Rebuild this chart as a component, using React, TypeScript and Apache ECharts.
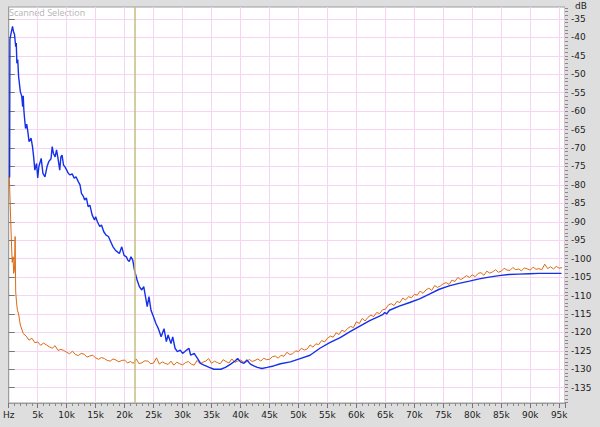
import React, { useEffect, useRef } from 'react';
import * as echarts from 'echarts';

// Blue trace (kHz, dB)
const blueKHz = [
  0.15, 0.2, 0.45, 0.65, 0.8, 1.0, 1.2, 1.3, 1.4, 1.55, 1.7, 2.0, 2.25, 2.4, 2.5, 2.6, 2.7, 2.9, 3.1, 3.3,
  3.5, 3.85, 4.1, 4.3, 4.5, 4.8, 5.0, 5.2, 5.6, 5.9, 6.25, 6.6, 6.9, 7.3, 7.5, 7.7, 8.0, 8.25, 8.5, 8.8,
  9.0, 9.2, 9.45, 9.7, 10.0, 10.3, 10.6, 10.95, 11.3, 11.6, 12.0, 12.3, 12.55, 12.9, 13.1, 13.4, 13.7, 14.0, 14.4, 14.8,
  15.0, 15.3, 15.7, 16.0, 16.4, 16.8, 17.2, 17.6, 18.0, 18.4, 18.7, 19.1, 19.5, 19.9, 20.3, 20.55, 20.8, 21.1, 21.4, 21.7,
  22.15, 22.55, 22.95, 23.3, 23.5, 23.9, 24.2, 24.55, 25.0, 25.4, 25.8, 26.3, 26.8, 27.2, 27.5, 28.0, 28.3, 28.7, 29.1, 29.6,
  30.0, 30.4, 30.7, 31.1, 31.4, 32.0, 32.6, 33.1, 33.7, 34.6, 35.4, 36.6, 37.4, 38.3, 39.1, 39.5, 40.0, 40.6, 41.1, 41.7,
  42.3, 42.9, 43.7, 44.6, 45.7, 46.9, 48.6, 50.3, 52.0, 53.7, 55.4, 57.2, 58.9, 60.6, 62.3, 64.0, 64.6, 64.9, 65.2, 65.7,
  67.4, 69.2, 70.9, 72.6, 74.3, 76.0, 77.7, 79.5, 81.2, 82.9, 84.6, 86.3, 88.0, 89.8, 91.5, 93.2, 95.4
];
const blueDb = [
  -78, -40.5, -38.5, -37, -38.3, -39.2, -42.5, -41.5, -47, -46, -50.6, -54.7, -56, -58.8, -55.8, -59.5, -61.5, -64.7, -63.5, -65.6,
  -68.3, -67.3, -69.6, -72.4, -76, -74.2, -78.1, -75, -72.8, -76.9, -77.8, -75.1, -73.7, -72.9, -69.6, -71.4, -72.4, -70.5, -72.8, -76,
  -72.4, -71.9, -74.6, -75.1, -76, -76.9, -77.3, -77, -78.2, -77.8, -79.1, -80, -82.3, -83.2, -84.1, -83.5, -85.9, -85.5, -88.2, -89.5,
  -88.6, -90, -91.3, -90.9, -92.7, -93.6, -94, -95.4, -96.8, -97.7, -98.1, -98.6, -96.8, -99.1, -99.5, -100.4, -100.8, -99.5, -100.4, -103.1,
  -105.8, -107.6, -108.5, -107.6, -109.4, -113, -110.3, -114, -115.8, -117.6, -118.9, -121.2, -119.0, -122.5, -120.7, -123, -121.2, -124.3, -125.2, -124.8,
  -125.7, -125.2, -124.8, -124.3, -126.2, -125.7, -127.1, -128.4, -128.9, -129.5, -130, -130, -129.5, -128.6, -127.7, -127.1, -128, -128.4, -127.5, -128.6,
  -129.1, -129.5, -129.8, -129.5, -129.1, -128.5, -128, -127.1, -126.2, -124.3, -122.8, -121.4, -119.8, -118.3, -116.8, -115.6, -115.1, -114.6, -115.0, -114,
  -112.9, -111.9, -110.9, -109.6, -108.3, -107.4, -106.7, -106.1, -105.5, -105, -104.6, -104.3, -104.2, -104.1, -104, -104, -104
];

// Orange trace (kHz, dB)
const orangeKHz = [
  0.1, 0.3, 0.45, 0.6, 0.75, 0.85, 1.0, 1.1, 1.2, 1.35, 1.5, 1.7, 2.0, 2.5, 3.0,
  3.5, 4.0, 4.5, 5.0, 5.5, 6.0, 6.5, 7.0, 7.5, 8.0, 8.5, 9.0, 9.5,
  10.0, 10.5, 11.0, 11.5, 12.0, 12.5, 13.0, 13.5, 14.0, 14.5,
  15.0, 15.5, 16.0, 16.5, 17.0, 17.5, 18.0, 18.5, 19.0, 19.5,
  20.0, 20.5, 21.0, 21.5, 22.0, 22.5, 23.0, 23.5, 24.0, 24.5,
  25.0, 25.5, 26.0, 26.5, 27.0, 27.5, 28.0, 28.5, 29.0, 29.5,
  30.0, 30.5, 31.0, 31.5, 32.0, 32.5, 33.0, 33.5, 34.0, 34.5,
  35.0, 35.5, 36.0, 36.5, 37.0, 37.5, 38.0, 38.5, 39.0, 39.5,
  40.0, 40.5, 41.0, 41.5, 42.0, 42.5, 43.0, 43.5, 44.0, 44.5,
  45.0, 45.5, 46.0, 46.5, 47.0, 47.5, 48.0, 48.5, 49.0, 49.5,
  50.0, 50.5, 51.0, 51.5, 52.0, 52.5, 53.0, 53.5, 54.0, 54.5,
  55.0, 55.5, 56.0, 56.5, 57.0, 57.5, 58.0, 58.5, 59.0, 59.5,
  60.0, 60.5, 61.0, 61.5, 62.0, 62.5, 63.0, 63.5, 64.0, 64.5,
  65.0, 65.5, 66.0, 66.5, 67.0, 67.5, 68.0, 68.5, 69.0, 69.5,
  70.0, 70.5, 71.0, 71.5, 72.0, 72.5, 73.0, 73.5, 74.0, 74.5,
  75.0, 75.5, 76.0, 76.5, 77.0, 77.5, 78.0, 78.5, 79.0, 79.5,
  80.0, 80.5, 81.0, 81.5, 82.0, 82.5, 83.0, 83.5, 84.0, 84.5,
  85.0, 85.5, 86.0, 86.5, 87.0, 87.5, 88.0, 88.5, 89.0, 89.5,
  90.0, 90.5, 91.0, 91.5, 92.0, 92.5, 93.0, 93.5, 94.0, 94.5, 95.0, 95.5
];
const orangeDb = [
  -77.8, -87.6, -95, -101, -99.5, -104, -103, -94, -109, -112, -114, -115, -118, -120.3, -121,
  -122.1, -121.6, -122.8, -122.6, -123.5, -122.9, -123.4, -123.9, -124.3, -123.6, -124.9, -124.6, -124.9,
  -125.4, -125.8, -125.1, -126.0, -126.3, -125.7, -125.9, -126.7, -126.4, -126.2,
  -126.9, -127.3, -126.8, -127.1, -127.6, -127.8, -127.2, -127.5, -128.0, -127.6,
  -127.5, -128.3, -127.9, -128.4, -127.2, -128.5, -128.2, -127.7, -127.8, -128.5,
  -128.3, -126.9, -128.6, -128.0, -128.4, -128.7, -127.8, -128.9, -128.1, -128.5,
  -128.8, -128.2, -127.9, -128.6, -128.9, -127.6, -128.5, -128.1, -127.8, -127.1,
  -128.4, -127.8, -128.2, -128.5, -127.4, -127.9, -128.3, -127.2, -128.1, -127.8,
  -127.5, -128.0, -128.1, -127.3, -127.9, -127.6, -127.2, -127.8, -127.0, -127.4,
  -127.3, -126.6, -126.4, -127.0, -126.2, -126.5, -125.4, -126.0, -125.8, -125.0,
  -125.2, -124.3, -124.8, -124.5, -123.4, -124.0, -123.1, -123.3, -122.2, -122.6,
  -121.6, -121.0, -121.3, -120.1, -120.6, -119.4, -119.8, -118.9, -118.4, -118.7,
  -117.1, -117.6, -116.2, -116.9, -115.9, -115.3, -115.7, -114.6, -114.9, -113.9,
  -113.7, -112.6, -112.2, -112.7, -111.6, -111.9, -110.7, -111.2, -110.3, -110.6,
  -109.7, -109.9, -108.8, -109.4, -108.5, -108.0, -108.6, -107.3, -107.8, -107.4,
  -106.8, -106.5, -107.0, -105.8, -106.2, -105.1, -105.7, -105.2, -104.6, -105.1,
  -104.4, -104.9, -104.0, -103.8, -104.5, -103.4, -103.9, -103.6, -103.0, -103.7,
  -103.4, -102.6, -103.1, -103.2, -102.4, -103.0, -102.8, -103.3, -102.5, -102.8,
  -103.1, -102.3, -102.9, -102.7, -103.0, -101.5, -102.7, -102.2, -102.8, -102.1, -102.6, -102.4
];

const markerKHz = 21.7;
const yMajorTicks = [-135, -130, -125, -120, -115, -110, -105, -100, -95, -90, -85, -80, -75, -70, -65, -60, -55, -50, -45, -40, -35];
const yMinorTicks: number[] = [];
for (let v = -139; v <= -32; v++) yMinorTicks.push(v);

const Y_MIN = -139.15;
const Y_MAX = -31.75;

export default function App() {
  const ref = useRef<HTMLDivElement>(null);
  useEffect(() => {
    if (!ref.current) return;
    const chart = echarts.init(ref.current, null, { renderer: 'svg' });
    const font = 'DejaVu Sans';
    chart.setOption({
      animation: false,
      backgroundColor: '#dedede',
      grid: {
        left: 7, top: 7, right: 35, bottom: 24,
        show: true, backgroundColor: '#ffffff', borderColor: '#9c9c9c', borderWidth: 1,
      },
      xAxis: {
        type: 'value', min: 0, max: 96, interval: 5,
        axisLine: { show: true, lineStyle: { color: '#9c9c9c' } },
        axisTick: { show: true, length: 5, lineStyle: { color: '#777' } },
        minorTick: { show: true, splitNumber: 5, length: 3, lineStyle: { color: '#888' } },
        axisLabel: {
          margin: 7, fontSize: 9, color: '#222', fontFamily: font,
          formatter: (v: number) => (v === 0 ? 'Hz' : v >= 96 ? '' : `${v}k`),
        },
        splitLine: { show: true, lineStyle: { color: '#f7d3f4', width: 1 } },
      },
      yAxis: [
        {
          type: 'value', position: 'right', min: Y_MIN, max: Y_MAX,
          axisLine: { show: true, lineStyle: { color: '#9c9c9c' } },
          axisTick: { show: true, customValues: yMajorTicks, length: 6, lineStyle: { color: '#777' } },
          axisLabel: { customValues: yMajorTicks, margin: 6, fontSize: 9, color: '#222', fontFamily: font },
          splitLine: { show: true, lineStyle: { color: '#f7d3f4', width: 1 } },
        },
        {
          type: 'value', position: 'right', min: Y_MIN, max: Y_MAX,
          axisLine: { show: false },
          axisTick: { show: true, customValues: yMinorTicks, length: 3, lineStyle: { color: '#888' } },
          axisLabel: { show: false },
          splitLine: { show: false },
        },
      ],
      graphic: [
        { type: 'text', left: 9, top: 8, style: { text: 'Scanned Selection', fill: '#b4b4b4', fontSize: 9, fontFamily: 'Open Sans' } },
        { type: 'text', left: 575, top: 1, style: { text: 'dB', fill: '#222', fontSize: 9, fontFamily: font } },
      ],
      series: [
        {
          type: 'line', name: 'orange', showSymbol: false, silent: true,
          data: orangeKHz.map((f, i) => [f, orangeDb[i]]),
          lineStyle: { color: '#dc6a14', width: 1 },
          markLine: {
            silent: true, symbol: 'none', label: { show: false },
            lineStyle: { color: '#c8bd78', width: 1.5, type: 'solid' },
            data: [{ xAxis: markerKHz }],
          },
        },
        {
          type: 'line', name: 'blue', showSymbol: false, silent: true,
          data: blueKHz.map((f, i) => [f, blueDb[i]]),
          lineStyle: { color: '#1530ea', width: 1.4 },
        },
      ],
    });
    return () => chart.dispose();
  }, []);
  return (
    <div
      ref={ref}
      style={{ position: 'fixed', left: 0, top: 0, width: 600, height: 427 }}
    />
  );
}
